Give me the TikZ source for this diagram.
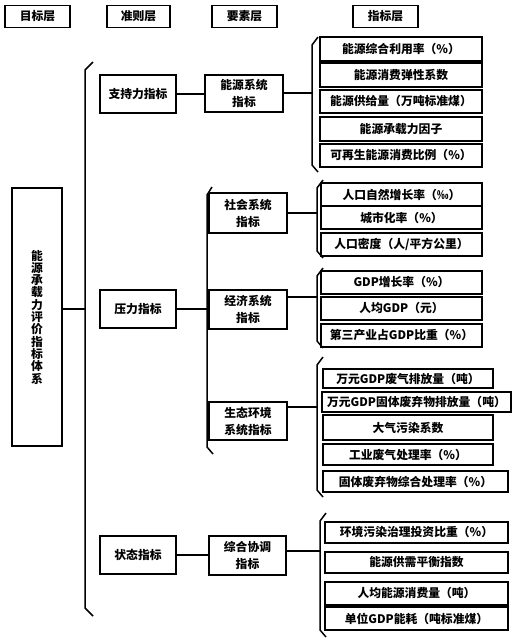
\documentclass[tikz,border=0pt]{standalone}
\usepackage{fontspec}
\setmainfont{Noto Sans CJK SC}

\begin{document}
\begin{tikzpicture}[x=1pt, y=-1pt, font=\fontsize{11.8}{12.3}\selectfont\bfseries,
	box/.style={draw, line width=1.5pt, inner sep=0pt, align=center},
	elem/.style={box, font=\fontsize{11.8}{17}\selectfont\bfseries},
	link/.style={line width=1.5pt},
	brace/.style={line width=1.5pt, line join=round}]
	\useasboundingbox (0,0) rectangle (519,643);
	
	% header row
	\foreach \n/\xa/\xb/\t in {h1/5/70/目标层, h2/107/170/准则层, h3/212/277/要素层, h4/353/418/指标层}
		\node[box, minimum width={\xb-\xa}, minimum height=22] (\n) at ({(\xa+\xb)/2},16.5) {\t};
	
	% goal
	\node[box, minimum width=50, minimum height=258] (goal) at (37,317) {能\\源\\承\\载\\力\\评\\价\\指\\标\\体\\系};
	
	% criteria
	\node[box, minimum width=76, minimum height=38] (c1) at (138,94) {支持力指标};
	\node[box, minimum width=76, minimum height=38] (c2) at (138,309) {压力指标};
	\node[box, minimum width=76, minimum height=38] (c3) at (138,555) {状态指标};
	
	% elements
	\node[elem, minimum width=78, minimum height=37] (e1) at (244,93.5) {能源系统\\指标};
	\node[elem, minimum width=78, minimum height=40] (e2) at (248,213) {社会系统\\指标};
	\node[elem, minimum width=78, minimum height=39] (e3) at (248,309.5) {经济系统\\指标};
	\node[elem, minimum width=78, minimum height=38] (e4) at (248,421) {生态环境\\系统指标};
	\node[elem, minimum width=77, minimum height=39] (e5) at (247.5,555.5) {综合协调\\指标};
	
	% main brace
	\coordinate (m1) at (93,62);
	\coordinate (m2) at (85,70);
	\coordinate (m3) at (85,608);
	\coordinate (m4) at (93,616);
	\coordinate (mj) at (85,309);
	\draw[brace] (m1)--(m2)--(m3)--(m4);
	\draw[link] (goal.east |- mj) -- (mj);
	
	% brace of the pressure group
	\coordinate (p1) at (212,187);
	\coordinate (p2) at (207,195);
	\coordinate (p3) at (207,447);
	\coordinate (p4) at (213,454);
	\coordinate (pj) at (207,309);
	\draw[brace] (p1)--(p2)--(p3)--(p4);
	\draw[link] (c2.east) -- (pj);
	\draw[link] (c1.east) -- (c1.east -| e1.west);
	\draw[link] (c3.east) -- (c3.east -| e5.west);
	
	% indicator braces
	\foreach \b/\x/\ya/\yb/\yj/\e in {b1/312/37/172/93/e1, b2/317/180/258/213/e2, b3/317/268/348/297/e3, b4/317/357/497/407/e4, b5/320/513/637/551/e5} {
		\draw[brace] (\x+6,\ya) -- (\x,\ya+8) -- (\x,\yb-7) -- (\x+6,\yb);
		\coordinate (\b) at (\x,\yj);
		\draw[link] (\e.east |- \b) -- (\b);
	}
	
	% indicators
	\foreach \n/\xa/\xb/\ya/\yb/\t in {
		i11/320/482/37/61/能源综合利用率（\%）,
		i12/320/482/63/87/能源消费弹性系数,
		i13/320/482/90/113/能源供给量（万吨标准煤）,
		i14/320/482/117/141/能源承载力因子,
		i15/320/482/144/167/可再生能源消费比例（\%）,
		i21/321/482/183/206/人口自然增长率（‰）,
		i22/321/482/206/229/城市化率（\%）,
		i23/321/482/233/256/{人口密度（人/平方公里）},
		i31/321/482/271/294/GDP增长率（\%）,
		i32/321/482/297/320/人均GDP（元）,
		i33/321/482/324/347/第三产业占GDP比重（\%）,
		i41/323/493/369/388/万元GDP废气排放量（吨）,
		i42/322/511/392/412/万元GDP固体废弃物排放量（吨）,
		i43/323/493/415/440/大气污染系数,
		i44/323/493/444/465/工业废气处理率（\%）,
		i45/323/508/471/492/固体废弃物综合处理率（\%）,
		i51/325/508/522/543/环境污染治理投资比重（\%）,
		i52/325/508/552/573/能源供需平衡指数,
		i53/325/508/582/605/人均能源消费量（吨）,
		i54/325/508/607/630/单位GDP能耗（吨标准煤）}
		\node[box, minimum width={\xb-\xa}, minimum height={\yb-\ya}] (\n) at ({(\xa+\xb)/2},{(\ya+\yb)/2}) {\t};
\end{tikzpicture}
\end{document}
